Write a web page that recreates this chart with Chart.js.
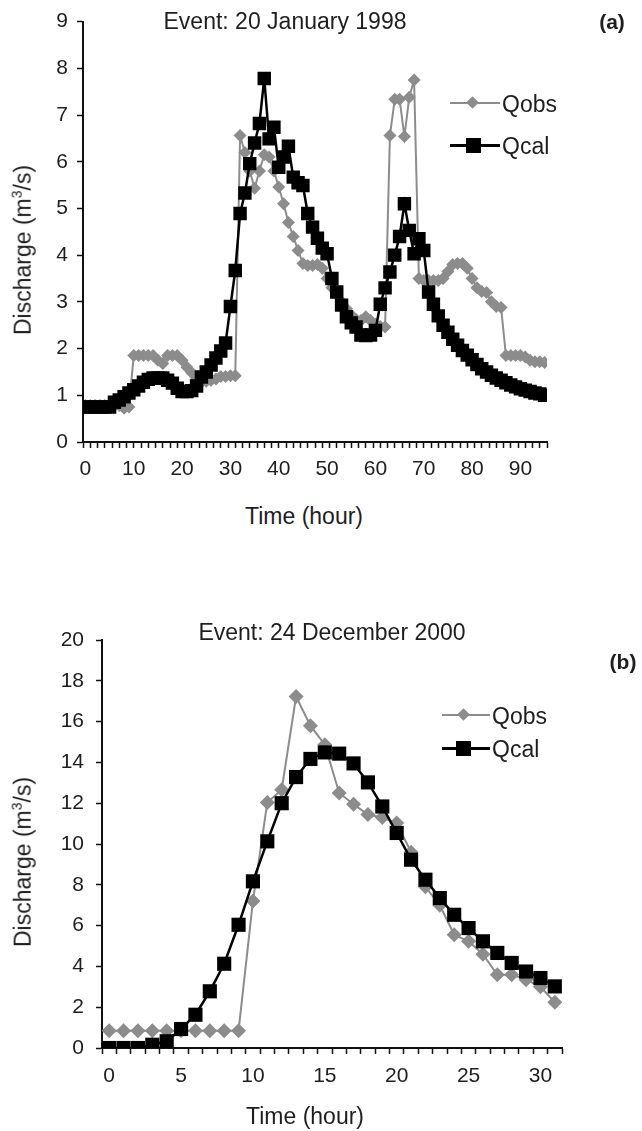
<!DOCTYPE html>
<html>
<head>
<meta charset="utf-8">
<script src="https://cdn.jsdelivr.net/npm/chart.js@4.4.1/dist/chart.umd.min.js"></script>
<style>
  body { margin: 0; background: #fff; }
  #wrap { position: relative; width: 642px; height: 1131px; overflow: hidden; font-family: "Liberation Sans", Arial, sans-serif; color: #1e1e1e; }
  canvas { position: absolute; left: 0; }
  .t { position: absolute; white-space: nowrap; font-size: 23px; line-height: 1; transform: translate(-50%, -50%); }
  .l { position: absolute; white-space: nowrap; font-size: 23px; line-height: 1; transform: translateY(-50%); }
  .rot { transform: translate(-50%, -50%) rotate(-90deg); }
  .b { font-weight: bold; font-size: 21px; }
  .ln { position: absolute; height: 2px; }
  .mk { position: absolute; }
</style>
</head>
<body>
<div id="wrap">
  <canvas id="chartA" width="642" height="500" style="top:0"></canvas>
  <canvas id="chartB" width="642" height="531" style="top:600px"></canvas>

  <div class="t" style="left:285px;top:21px">Event: 20 January 1998</div>
  <div class="t b" style="left:612px;top:21px">(a)</div>
  <div class="t rot" style="left:22px;top:250px">Discharge (m<sup style="font-size:14px">3</sup>/s)</div>
  <div class="t" style="left:304px;top:516px">Time (hour)</div>

  <div class="ln" style="left:450px;top:102px;width:50px;background:#8c8c8c"></div>
  <div class="mk" style="left:468px;top:98px;width:9px;height:9px;background:#8c8c8c;transform:rotate(45deg)"></div>
  <div class="l" style="left:502px;top:104px">Qobs</div>
  <div class="ln" style="left:450px;top:144px;width:50px;height:2.5px;background:#000"></div>
  <div class="mk" style="left:466px;top:138px;width:15px;height:15px;background:#000"></div>
  <div class="l" style="left:502px;top:146px">Qcal</div>

  <div class="t" style="left:332px;top:632px">Event: 24 December 2000</div>
  <div class="t b" style="left:623px;top:661px">(b)</div>
  <div class="t rot" style="left:22px;top:862px">Discharge (m<sup style="font-size:14px">3</sup>/s)</div>
  <div class="t" style="left:305px;top:1116px">Time (hour)</div>

  <div class="ln" style="left:442px;top:714px;width:48px;background:#8c8c8c"></div>
  <div class="mk" style="left:459px;top:710px;width:9px;height:9px;background:#8c8c8c;transform:rotate(45deg)"></div>
  <div class="l" style="left:492px;top:716px">Qobs</div>
  <div class="ln" style="left:442px;top:747px;width:48px;height:2.5px;background:#000"></div>
  <div class="mk" style="left:456px;top:741px;width:15px;height:15px;background:#000"></div>
  <div class="l" style="left:492px;top:749px">Qcal</div>
</div>

<script>
// event (a): 20 January 1998, hourly
const hoursA = Array.from({ length: 96 }, (_, i) => i);
const qobsA = [
  0.78, 0.78, 0.78, 0.78, 0.78, 0.78, 0.78, 0.78, 0.72, 0.75,
  1.85, 1.85, 1.85, 1.85, 1.85, 1.75, 1.68, 1.85, 1.85, 1.85,
  1.75, 1.6, 1.48, 1.35, 1.28, 1.3, 1.32, 1.35, 1.4, 1.4,
  1.42, 1.42, 6.56, 6.2, 5.8, 5.43, 5.8, 6.15, 6.1, 5.8,
  5.46, 5.1, 4.7, 4.4, 4.1, 3.82, 3.78, 3.78, 3.8, 3.72,
  3.5, 3.3, 3.15, 3.0, 2.85, 2.72, 2.62, 2.6, 2.68, 2.6,
  2.52, 2.47, 2.46, 6.56, 7.34, 7.34, 6.54, 7.38, 7.75, 3.5,
  3.46, 3.46, 3.46, 3.46, 3.5, 3.65, 3.8, 3.82, 3.82, 3.72,
  3.5, 3.3, 3.22, 3.2, 3.0, 2.9, 2.88, 1.85, 1.85, 1.85,
  1.85, 1.82, 1.75, 1.72, 1.72, 1.7
];
const qcalA = [
  0.75, 0.75, 0.75, 0.75, 0.75, 0.75, 0.85, 0.9, 0.97, 1.05,
  1.12, 1.2, 1.28, 1.34, 1.37, 1.37, 1.37, 1.32, 1.26, 1.15,
  1.08, 1.08, 1.1, 1.2, 1.39, 1.5, 1.65, 1.8, 1.95, 2.12,
  2.9, 3.67, 4.89, 5.33, 5.96, 6.4, 6.82, 7.78, 6.49, 6.74,
  5.88, 6.1, 6.33, 5.67, 5.55, 5.49, 4.89, 4.6, 4.36, 4.15,
  4.03, 3.5, 3.21, 2.93, 2.68, 2.55, 2.46, 2.29, 2.28, 2.29,
  2.39, 2.95, 3.3, 3.64, 4.0, 4.4, 5.1, 4.53, 4.03, 4.35,
  4.1, 3.21, 2.95, 2.7, 2.5, 2.35, 2.2, 2.07, 1.96, 1.86,
  1.76, 1.66, 1.57, 1.5, 1.43, 1.37, 1.32, 1.27, 1.22, 1.18,
  1.14, 1.11, 1.08, 1.05, 1.03, 1.0
];
const xLabelsA = [0, 10, 20, 30, 40, 50, 60, 70, 80, 90];
const yMaxA = 9;

// event (b): 24 December 2000, hourly
const hoursB = Array.from({ length: 32 }, (_, i) => i);
const qobsB = [
  0.85, 0.85, 0.85, 0.85, 0.85, 0.85, 0.85, 0.85, 0.85, 0.85,
  7.2, 12.04, 12.66, 17.23, 15.8, 14.87, 12.5, 11.95, 11.44, 11.3,
  11.03, 9.6, 7.9, 7.0, 5.55, 5.23, 4.6, 3.59, 3.59, 3.35,
  3.0, 2.24
];
const qcalB = [
  0, 0, 0, 0.16, 0.33, 0.93, 1.63, 2.78, 4.13, 6.04,
  8.17, 10.13, 12.0, 13.28, 14.17, 14.49, 14.43, 13.95, 13.02, 11.84,
  10.54, 9.23, 8.25, 7.35, 6.53, 5.88, 5.23, 4.66, 4.17, 3.75,
  3.43, 3.02
];
const xLabelsB = [0, 5, 10, 15, 20, 25, 30];
const yMaxB = 20;

const grey = '#8c8c8c';
const ink = '#1e1e1e';
const tickFont = { family: 'Liberation Sans', size: 21 };

function buildChart(id, o) {
  const ctx = document.getElementById(id).getContext('2d');
  return new Chart(ctx, {
    type: 'line',
    data: {
      datasets: [
        {
          label: 'Qcal',
          data: o.hours.map((h, i) => ({ x: h, y: o.qcal[i] })),
          borderColor: '#000',
          backgroundColor: '#000',
          borderWidth: 2.5,
          pointStyle: 'rect',
          pointRadius: o.sq,
          pointBorderWidth: 0,
          order: 0
        },
        {
          label: 'Qobs',
          data: o.hours.map((h, i) => ({ x: h, y: o.qobs[i] })),
          borderColor: grey,
          backgroundColor: grey,
          borderWidth: 2,
          pointStyle: 'rectRot',
          pointRadius: o.dia,
          pointBorderWidth: 0,
          order: 1
        }
      ]
    },
    options: {
      responsive: false,
      devicePixelRatio: 1,
      animation: false,
      layout: { padding: o.pad },
      plugins: { legend: { display: false }, tooltip: { enabled: false } },
      elements: { line: { tension: 0 } },
      scales: {
        x: {
          type: 'linear',
          min: -0.5,
          max: o.xMax,
          afterBuildTicks: scale => {
            const t = [];
            for (let v = -0.5; v <= o.xMax + 1e-6; v += o.minor) t.push({ value: v });
            o.labels.forEach(v => t.push({ value: v, lbl: true }));
            t.sort((a, b) => a.value - b.value);
            scale.ticks = t;
          },
          afterFit: scale => { scale.height = o.xH; },
          ticks: {
            autoSkip: false,
            maxRotation: 0,
            font: tickFont,
            color: ink,
            padding: o.xPad,
            callback: (v, i, ticks) => ticks[i].lbl ? String(v) : ''
          },
          grid: {
            drawOnChartArea: false,
            drawTicks: true,
            tickLength: 6,
            tickWidth: 1.5,
            tickColor: c => (c.tick && c.tick.lbl) ? 'rgba(0,0,0,0)' : '#111'
          },
          border: { display: true, color: '#111', width: 2 }
        },
        y: {
          min: 0,
          max: o.yMax,
          afterFit: scale => { scale.width = o.yW; },
          ticks: { stepSize: o.yStep, font: tickFont, color: ink, padding: o.yPad },
          grid: { drawOnChartArea: false, drawTicks: true, tickLength: 6, tickWidth: 1.5, tickColor: '#111' },
          border: { display: true, color: '#111', width: 2 }
        }
      }
    }
  });
}

buildChart('chartA', {
  hours: hoursA, qobs: qobsA, qcal: qcalA, labels: xLabelsA,
  xMax: 95.5, minor: 1.5, yMax: yMaxA, yStep: 1,
  sq: 9.5, dia: 6.5,
  pad: { left: 0, right: 95, top: 21, bottom: 0 },
  xH: 58, yW: 83, xPad: 9, yPad: 9
});

buildChart('chartB', {
  hours: hoursB, qobs: qobsB, qcal: qcalB, labels: xLabelsB,
  xMax: 31.5, minor: 1, yMax: yMaxB, yStep: 2,
  sq: 10, dia: 7.5,
  pad: { left: 0, right: 80, top: 40, bottom: 0 },
  xH: 83, yW: 102, xPad: 10, yPad: 12
});
</script>
</body>
</html>
